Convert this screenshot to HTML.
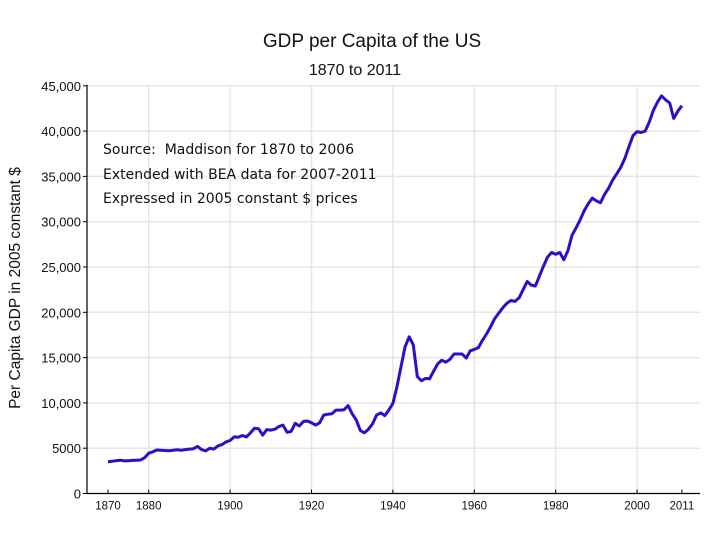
<!DOCTYPE html>
<html><head><meta charset="utf-8"><style>
html,body{margin:0;padding:0;background:#fff;}
svg{display:block;font-family:"Liberation Sans","DejaVu Sans",sans-serif;}
</style></head><body>
<svg id="chart" width="720" height="540">
<text x="372" y="47" font-size="19" text-anchor="middle" fill="#111">GDP per Capita of the US</text>
<text x="355" y="75" font-size="16" text-anchor="middle" fill="#111">1870 to 2011</text>
<text transform="translate(20,288) rotate(-90)" font-size="15.5" text-anchor="middle" fill="#111">Per Capita GDP in 2005 constant $</text>
<g id="grid"></g><g id="axes"></g>
<g font-size="14" fill="#111" style="font-family:'DejaVu Sans',sans-serif;white-space:pre">
<text x="103" y="154" xml:space="preserve">Source:  Maddison for 1870 to 2006</text>
<text x="103" y="179">Extended with BEA data for 2007-2011</text>
<text x="103" y="203">Expressed in 2005 constant $ prices</text>
</g>
<g id="series"></g>
</svg>
<script>
const years=[1870,1871,1872,1873,1874,1875,1876,1877,1878,1879,1880,1881,1882,1883,1884,1885,1886,1887,1888,1889,1890,1891,1892,1893,1894,1895,1896,1897,1898,1899,1900,1901,1902,1903,1904,1905,1906,1907,1908,1909,1910,1911,1912,1913,1914,1915,1916,1917,1918,1919,1920,1921,1922,1923,1924,1925,1926,1927,1928,1929,1930,1931,1932,1933,1934,1935,1936,1937,1938,1939,1940,1941,1942,1943,1944,1945,1946,1947,1948,1949,1950,1951,1952,1953,1954,1955,1956,1957,1958,1959,1960,1961,1962,1963,1964,1965,1966,1967,1968,1969,1970,1971,1972,1973,1974,1975,1976,1977,1978,1979,1980,1981,1982,1983,1984,1985,1986,1987,1988,1989,1990,1991,1992,1993,1994,1995,1996,1997,1998,1999,2000,2001,2002,2003,2004,2005,2006,2007,2008,2009,2010,2011];
const gdp=[3500,3550,3620,3680,3600,3620,3650,3680,3700,3950,4450,4600,4800,4780,4750,4720,4780,4820,4780,4850,4900,4950,5200,4850,4700,5000,4900,5250,5400,5700,5850,6250,6200,6400,6250,6700,7200,7150,6450,7050,7000,7100,7400,7550,6750,6850,7750,7450,7950,8000,7800,7550,7800,8650,8750,8800,9200,9200,9250,9700,8800,8100,6950,6700,7100,7700,8650,8900,8600,9200,9950,11800,14000,16200,17300,16400,12900,12450,12700,12650,13500,14300,14700,14500,14800,15400,15400,15400,14950,15750,15900,16100,16900,17600,18400,19300,19900,20500,21000,21300,21200,21600,22500,23400,23000,22900,24000,25100,26100,26600,26400,26600,25800,26800,28500,29300,30200,31200,32000,32600,32300,32100,33000,33700,34600,35300,36000,37000,38300,39500,39950,39850,40000,41000,42300,43200,43900,43450,43100,41400,42200,42800];
const yTicks=[0,5000,10000,15000,20000,25000,30000,35000,40000,45000];
const yTickLabels=["0","5000","10,000","15,000","20,000","25,000","30,000","35,000","40,000","45,000"];
const xTicks=[1870,1880,1900,1920,1940,1960,1980,2000,2011];
const xGrid=[1880,1900,1920,1940,1960,1980,2000];
const NS='http://www.w3.org/2000/svg';
const X0=108,XPY=4.07,Y0=493.5,YPV=45.3/5000;
function xs(y){return X0+(y-1870)*XPY;}
function ys(v){return Y0-v*YPV;}
function mk(t,a,p){const e=document.createElementNS(NS,t);for(const k in a)e.setAttribute(k,a[k]);p.appendChild(e);return e;}
const grid=document.getElementById('grid'),axes=document.getElementById('axes'),ser=document.getElementById('series');
yTicks.forEach((v,i)=>{
 if(v>0){const g=mk('line',{x1:87,x2:700,y1:ys(v),y2:ys(v),stroke:'#e6e6e6','stroke-width':1.5},grid);
 
 }
 const t=mk('line',{x1:83,x2:87,y1:ys(v),y2:ys(v),stroke:'#000'},axes);
 
 
 const l=mk('text',{x:81,y:ys(v)+5,'font-size':13,'text-anchor':'end',fill:'#111'},axes);
 l.textContent=yTickLabels[i];
 
 
});
xGrid.forEach(y=>{const g=mk('line',{x1:xs(y),x2:xs(y),y1:ys(45000),y2:Y0,stroke:'#e6e6e6','stroke-width':1.5},grid);
 
 });
const ya=mk('line',{x1:87,x2:87,y1:ys(45000)-1,y2:Y0,stroke:'#000','stroke-width':1.2},axes);


const xa=mk('line',{x1:87,x2:700,y1:Y0,y2:Y0,stroke:'#000','stroke-width':1.2},axes);


xTicks.forEach(y=>{
 const t=mk('line',{x1:xs(y),x2:xs(y),y1:Y0-4,y2:Y0,stroke:'#000'},axes);
 
 
 const l=mk('text',{x:xs(y),y:Y0+16,'font-size':11.5,'text-anchor':'middle',fill:'#111'},axes);
 l.textContent=String(y);
 
 
});
const d=years.map((y,i)=>(i?'L':'M')+xs(y).toFixed(1)+','+ys(gdp[i]).toFixed(1)).join('');
const p=mk('path',{d:d,fill:'none',stroke:'#2a10c8','stroke-width':3,'stroke-linejoin':'round'},ser);


</script>
</body></html>
